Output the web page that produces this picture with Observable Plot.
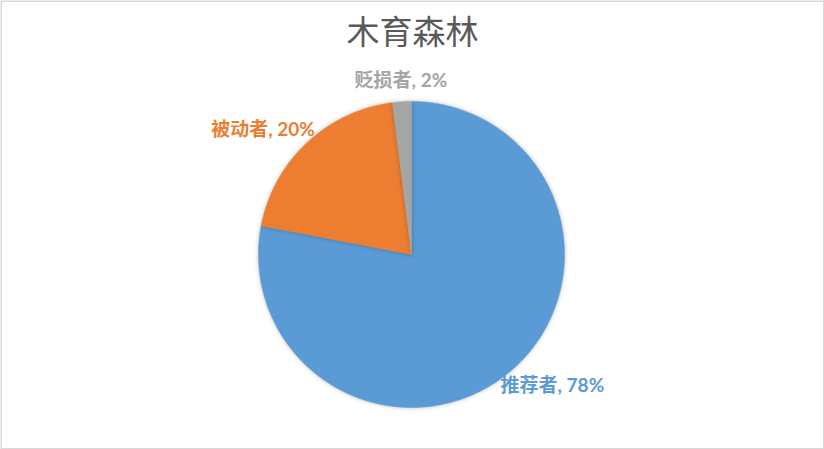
<!DOCTYPE html>
<html><head><meta charset="utf-8">
<script src="https://cdn.jsdelivr.net/npm/d3@7"></script>
<script src="https://cdn.jsdelivr.net/npm/@observablehq/plot@0.6"></script>
<style>
html,body{margin:0;padding:0;background:#fff;}
svg{display:block;}
</style></head>
<body>
<div id="chart"></div>
<script>
const title = "木育森林";
const categories = ["推荐者", "被动者", "贬损者"];
const values = [78, 20, 2];
const colors = ["#5B9BD5", "#ED7D31", "#A5A5A5"];

const arcs = d3.pie().sort(null).value(d => d)(values);

// polygon points for each slice (unit circle coords, angle clockwise from top)
const slicePts = arcs.map((a, i) => {
  const pts = [{x: 0, y: 0}];
  const n = Math.max(2, Math.ceil((a.endAngle - a.startAngle) / (Math.PI / 360)));
  for (let k = 0; k <= n; k++) {
    const t = a.startAngle + (a.endAngle - a.startAngle) * k / n;
    pts.push({x: Math.sin(t), y: Math.cos(t)});
  }
  pts.push({x: 0, y: 0});
  return pts;
});

const labels = arcs.map((a, i) => {
  const m0 = (a.startAngle + a.endAngle) / 2;
  const mid = Math.abs(Math.sin(m0)) < 0.3;
  const m = mid ? m0 : m0 + 0.07;
  const s = Math.sin(m), c = Math.cos(m);
  const r = mid ? 1.1 : 1.0;
  return {
    x: s * r, y: c * r,
    text: `${categories[i]}, ${values[i]}%`,
    color: colors[i],
    anchor: mid ? "middle" : (s > 0 ? "start" : "end"),
    line: c > 0 ? "bottom" : "top"
  };
});

const cx = 411, cy = 254, R = 153;

const marks = [
  Plot.frame({stroke: "#D9D9D9", strokeWidth: 1.5, inset: 0.75}),
  Plot.text([title], {frameAnchor: "top", text: d => d, dy: 20, fontSize: 33, fill: "#595959",
    fontFamily: "'Noto Sans CJK SC', sans-serif", lineAnchor: "top"})
];
slicePts.forEach((pts, i) => {
  marks.push(Plot.line(pts, {x: "x", y: "y", fill: colors[i], stroke: colors[i], strokeWidth: 0.5, curve: "linear"}));
});
["start", "end", "middle"].forEach(an => ["top", "bottom"].forEach(la => {
  const sub = labels.filter(d => d.anchor === an && d.line === la);
  if (sub.length) marks.push(Plot.text(sub, {x: "x", y: "y", text: "text", fill: "color",
    textAnchor: an, lineAnchor: la, fontSize: 19, fontWeight: "bold",
    fontFamily: "Lato, 'Noto Sans CJK SC', sans-serif"}));
}));

const chart = Plot.plot({
  width: 824, height: 449,
  margin: 0,
  x: {domain: [-1, 1], range: [cx - R, cx + R], axis: null},
  y: {domain: [-1, 1], range: [cy + R, cy - R], axis: null},
  style: {background: "#fff"},
  marks
});
chart.querySelectorAll('g[aria-label="line"]').forEach(g => {
  g.style.filter = "drop-shadow(0px 0px 2px rgba(0,0,0,0.25))";
});
document.getElementById("chart").appendChild(chart);
</script>
</body></html>
